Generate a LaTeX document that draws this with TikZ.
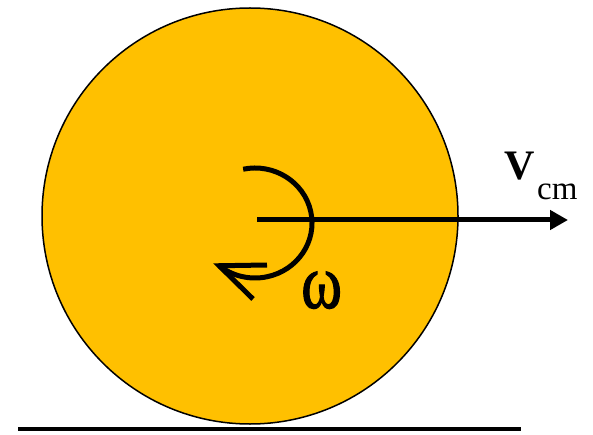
\documentclass[tikz,border=0pt]{standalone}
\usepackage{fontspec}
\setmainfont{Liberation Serif}
\usetikzlibrary{arrows.meta}
\definecolor{wheelfill}{HTML}{FFC000}
\tikzset{
  thick line/.style={line width=5pt},
  lbl/.style={inner sep=0pt, anchor=base west},
}
\begin{document}
\begin{tikzpicture}[x=1pt,y=-1pt]
\useasboundingbox (0,0) rectangle (593,435);
\node[circle, draw, fill=wheelfill, line width=1.5pt, minimum size=416pt, inner sep=0pt] (wheel) at (250,216) {};
\coordinate (gl) at (18,429);
\coordinate (gr) at (521,429);
\draw[line width=4.5pt] (gl) -- (gr);
\coordinate (c) at (257,220);
\coordinate (vend) at (568,220);
\draw[thick line, -{Triangle[length=18pt,width=19pt]}] (c) -- (vend);
\coordinate (arcstart) at ({255+57*cos(-102)},{223+55*sin(-102)});
\draw[thick line] (arcstart) arc[start angle=-102, end angle=129, x radius=57, y radius=55] coordinate (tip);
\coordinate (h1) at (267,265);
\coordinate (h2) at (253,299);
\draw[thick line, line cap=butt] (h1) -- (tip) -- (h2);
\node[lbl, font=\fontsize{42}{46}\selectfont\bfseries] (v) at (504,180) {V};
\node[lbl, font=\fontsize{33}{36}\selectfont] (cm) at (537,200) {cm};
\node[lbl, font=\fontsize{62}{66}\selectfont] (omega) at (301,308) {\scalebox{1}[1.25]{\addfontfeature{FakeBold=1.5}ω}};
\end{tikzpicture}
\end{document}
